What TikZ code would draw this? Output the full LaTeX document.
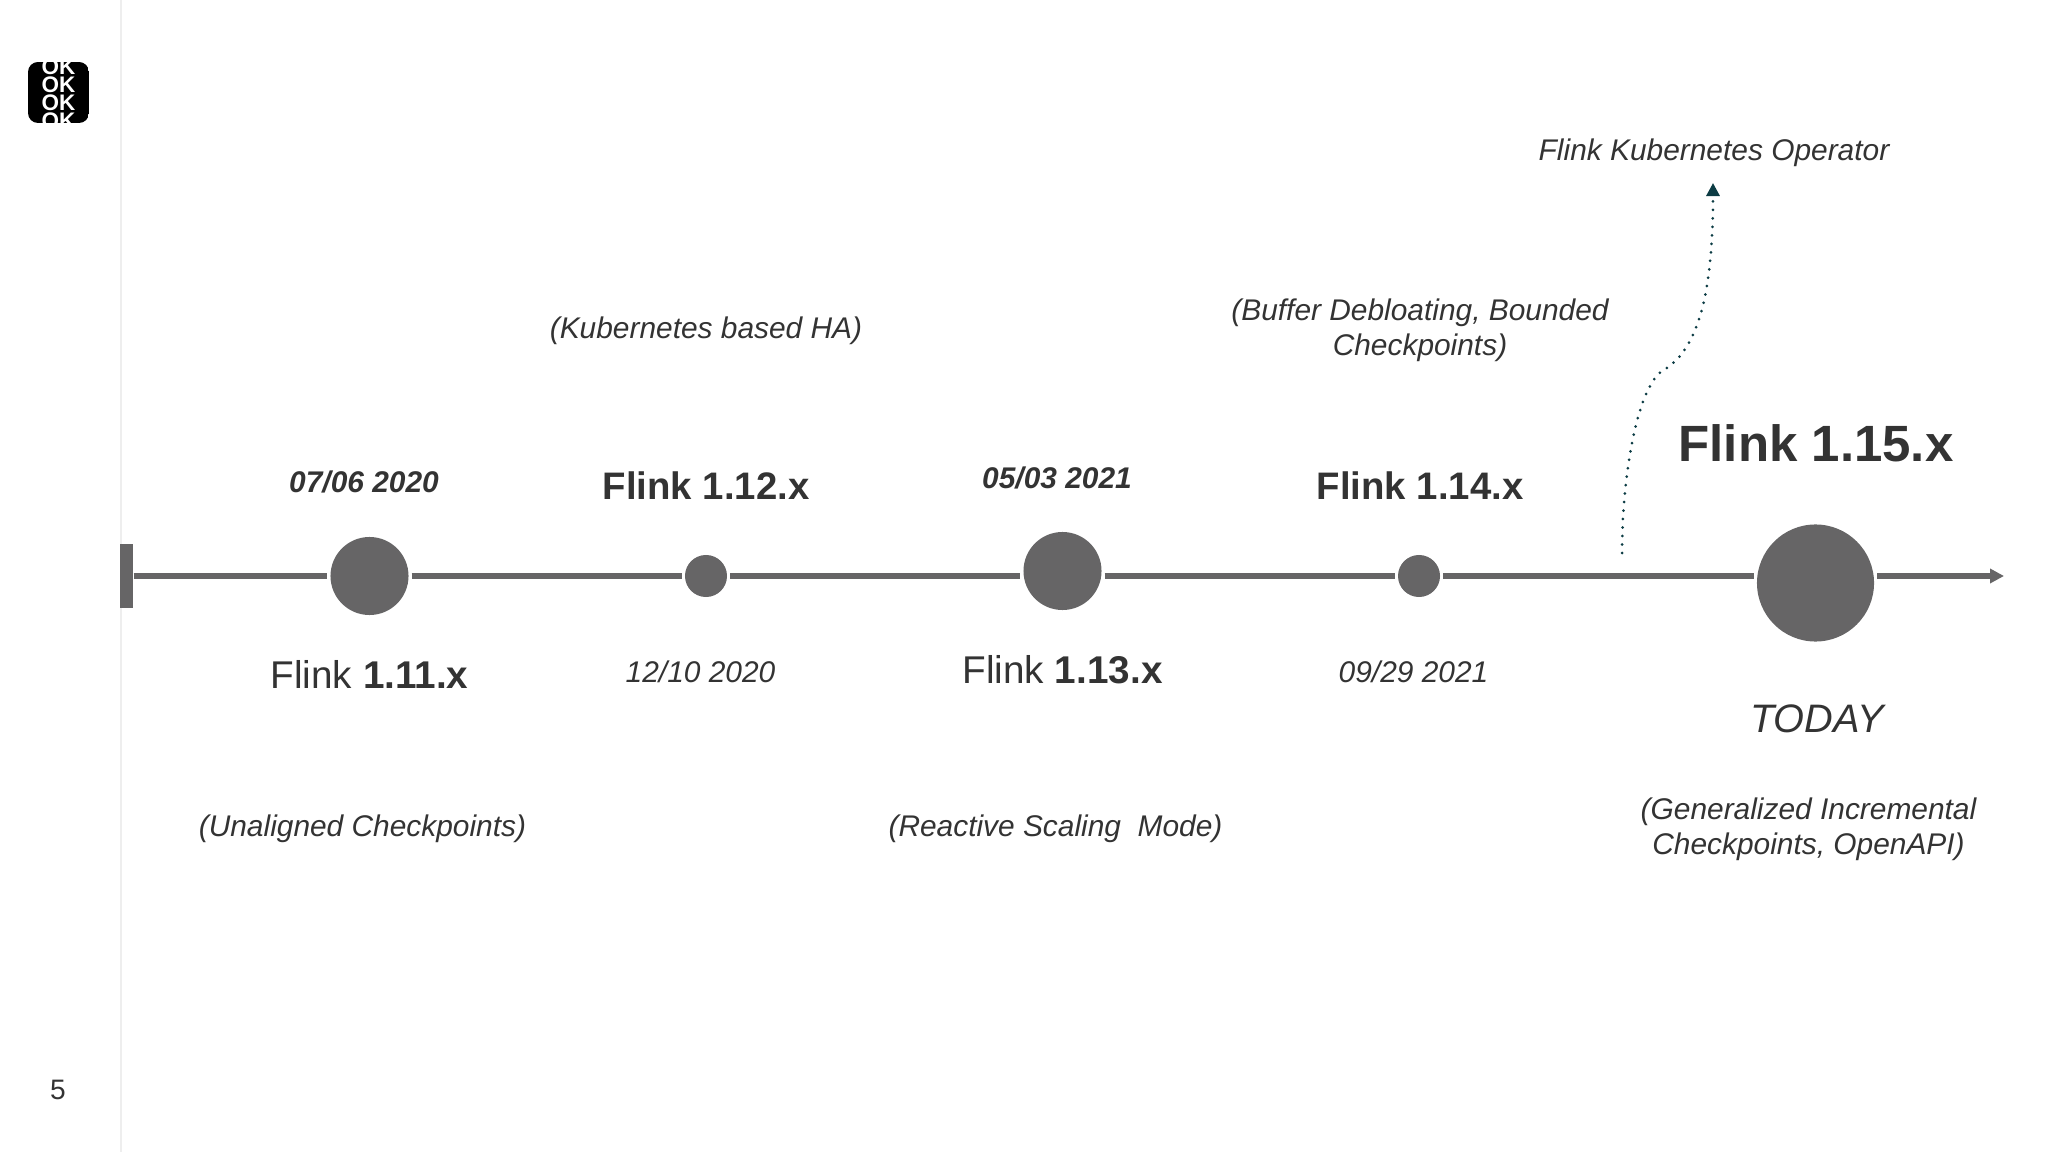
\documentclass[tikz,border=0pt]{standalone}
\usepackage{fontspec}
\setmainfont{Liberation Sans}
\usetikzlibrary{arrows.meta}
\definecolor{axisgray}{HTML}{666566}
\definecolor{inkgray}{HTML}{333333}
\definecolor{rulegray}{HTML}{EEEEEE}
\definecolor{dotteal}{HTML}{0C3C44}
\tikzset{every picture/.append style={x=0.01cm,y=-0.01cm}}
\tikzset{vertex/.style={circle,fill=axisgray,inner sep=0pt,outer sep=0.03cm,minimum size=0.78cm}}
\tikzset{smallvertex/.style={vertex,minimum size=0.42cm}}
\tikzset{bigvertex/.style={vertex,minimum size=1.17cm}}
\tikzset{axisline/.style={line width=0.05cm,axisgray}}
\tikzset{axisarrow/.style={axisline,-{Triangle[length=0.14cm,width=0.14cm]}}}
\tikzset{dotarc/.style={dotteal,line width=0.03cm,line cap=round,dash pattern=on 0pt off 0.085cm,-{Triangle[length=0.13cm,width=0.13cm]}}}
\tikzset{note/.style={inkgray,align=center,inner sep=0pt,font=\fontsize{8.5}{10}\selectfont\itshape}}
\tikzset{datebold/.style={inkgray,inner sep=0pt,font=\fontsize{8.5}{10}\selectfont\bfseries\itshape}}
\tikzset{dateplain/.style={inkgray,inner sep=0pt,font=\fontsize{8.5}{10}\selectfont\itshape}}
\tikzset{release/.style={inkgray,inner sep=0pt,font=\fontsize{11}{13}\selectfont}}
\tikzset{okline/.style={white,inner sep=0pt,font=\fontsize{6.4}{8}\selectfont\bfseries}}
\begin{document}
\begin{tikzpicture}
\useasboundingbox (0,0) rectangle (2048,1152);
\draw[rulegray, line width=0.02cm] (120.5,0) -- (120.5,1152);

% logo
\begin{scope}
\clip[rounded corners=0.1cm] (28,62) rectangle (89,123);
\fill[black] (28,62) rectangle (89,123);
\node (ok1) at (58.5,67)[okline]{OK};
\node (ok2) at (58.5,85)[okline]{OK};
\node (ok3) at (58.5,103)[okline]{OK};
\node (ok4) at (58.5,121)[okline]{OK};
\end{scope}
\node (page) at (58,1090)[inkgray,inner sep=0pt,font=\fontsize{8}{10}\selectfont]{5};

% timeline
\node (bar) at (126.5,576)[fill=axisgray,inner sep=0pt,minimum width=0.13cm,minimum height=0.64cm]{};
\node (c1) at (369.5,576)[vertex]{};
\node (c2) at (706,576)[smallvertex]{};
\node (c3) at (1062.5,571)[vertex]{};
\node (c4) at (1419,576)[smallvertex]{};
\node (c5) at (1815.5,583)[bigvertex]{};
\coordinate (tip) at (2004,576);

\draw[axisline] (bar.east) -- (c1);
\draw[axisline] (c1) -- (c2);
\draw[axisline] (c2) -- (c2 -| c3.west);
\draw[axisline] (c4 -| c3.east) -- (c4);
\draw[axisline] (c4) -- (c4 -| c5.west);
\draw[axisarrow] (c4 -| c5.east) -- (tip);

% labels above
\node (opnote) at (1714,152.5)[note]{Flink Kubernetes Operator};
\node (hanote) at (706,331)[note]{(Kubernetes based HA)};
\node (bufnote) at (1420,330)[note]{(Buffer Debloating, Bounded\\Checkpoints)};
\node (d1) at (364,482)[datebold]{07/06 2020};
\node (v12) at (706,486)[release,font=\fontsize{10.9}{13}\selectfont\bfseries]{Flink 1.12.x};
\node (d3) at (1057,478)[datebold]{05/03 2021};
\node (v14) at (1420,486)[release,font=\fontsize{10.9}{13}\selectfont\bfseries]{Flink 1.14.x};
\node (v15) at (1816,443)[release,font=\fontsize{14.5}{17}\selectfont\bfseries]{Flink 1.15.x};

% labels below
\node (v11) at (369.5,674)[release]{Flink \textbf{1.11.x}};
\node (d2) at (700.5,672)[dateplain]{12/10 2020};
\node (v13) at (1062.5,670)[release]{Flink \textbf{1.13.x}};
\node (d4) at (1413.5,672)[dateplain]{09/29 2021};
\node (today) at (1817,718.5)[release,font=\fontsize{11.3}{13}\selectfont\itshape]{TODAY};
\node (unote) at (362.5,829)[note]{(Unaligned Checkpoints)};
\node (rnote) at (1055.5,829)[note]{(Reactive Scaling\ \ Mode)};
\node (gnote) at (1808.5,829)[note]{(Generalized Incremental\\Checkpoints, OpenAPI)};

% operator branch
\coordinate (dotstart) at (1622,553);
\coordinate (dotbend) at (1662,371);
\coordinate (dotend) at (1713,183);
\draw[dotarc] (dotstart) .. controls (1622,480) and (1636,390) .. (dotbend)
  .. controls (1696,352) and (1713,300) .. (dotend);
\end{tikzpicture}
\end{document}
